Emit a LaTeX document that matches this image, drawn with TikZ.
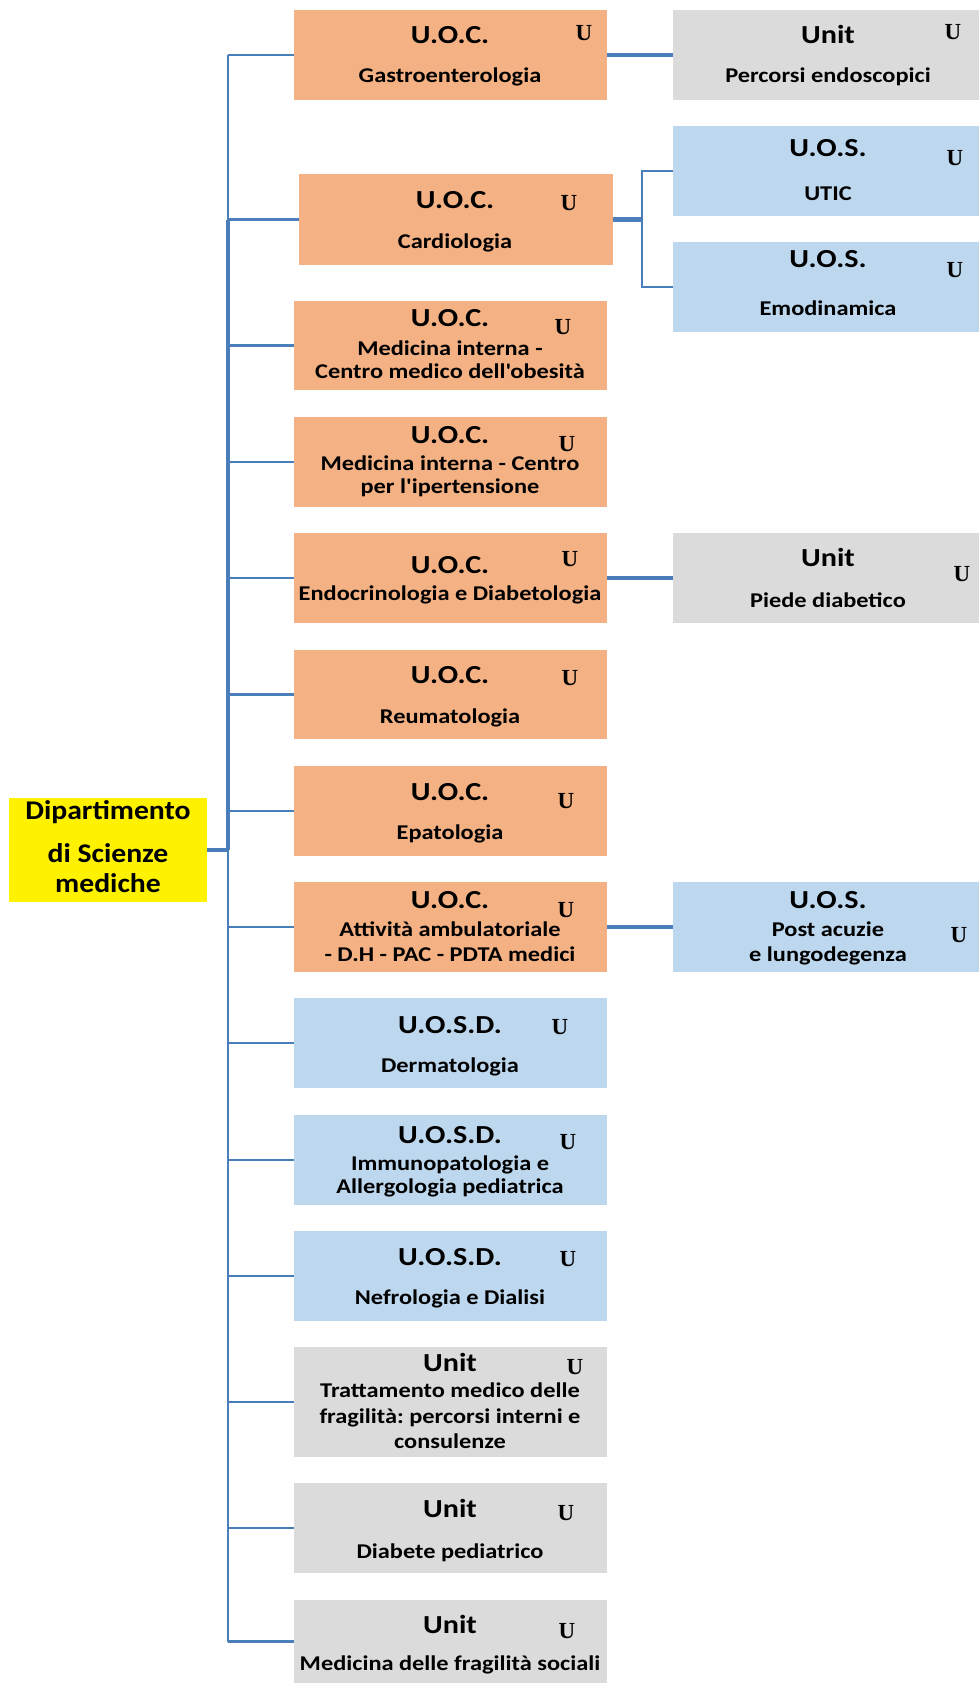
\documentclass[tikz,border=0pt]{standalone}
\usepackage{fontspec}
\setmainfont{Carlito}[Ligatures=TeXOff]
\newfontfamily\wfont{Carlito}[Ligatures=TeXOff,FakeStretch=1.16]
\newfontfamily\dfont{Carlito}[Ligatures=TeXOff,FakeStretch=1.10]
\newfontfamily\ufont{Liberation Serif}
\frenchspacing
\begin{document}
\begin{tikzpicture}[x=1pt,y=-1pt,
  box/.style={inner sep=0pt,outer sep=0pt,anchor=north west,draw=none},
  obox/.style={box,fill=orgc},
  bbox/.style={box,fill=bluec},
  gbox/.style={box,fill=grayc},
  ybox/.style={box,fill=yellow},
  hd/.style={inner sep=0pt,anchor=base,font=\fontsize{26}{30}\selectfont\wfont\bfseries},
  bd/.style={inner sep=0pt,anchor=base,font=\fontsize{21}{24}\selectfont\wfont\bfseries},
  dp/.style={inner sep=0pt,anchor=base,font=\fontsize{27}{30}\selectfont\dfont\bfseries},
  uu/.style={inner sep=0pt,anchor=center,font=\fontsize{23}{26}\selectfont\ufont\bfseries},
  conn/.style={draw=linec,line width=2.8pt},
  tconn/.style={draw=linec,line width=4.5pt}]
\definecolor{orgc}{HTML}{F4B183}
\definecolor{bluec}{HTML}{BDD7EE}
\definecolor{grayc}{HTML}{DBDBDB}
\definecolor{linec}{HTML}{4A7EBB}
\useasboundingbox (0,0) rectangle (979,1683);
% ---------- boxes ----------
\newcommand\mkbox[6]{\node[#1,minimum width={(#4-#2)*1pt},minimum height={(#5-#3)*1pt}] (#6) at (#2,#3) {};}
\mkbox{obox}{294}{10}{607}{100}{b1}
\mkbox{gbox}{673}{10}{979}{100}{r1}
\mkbox{obox}{299}{174}{613}{265}{b2}
\mkbox{bbox}{673}{126}{979}{216}{r2}
\mkbox{bbox}{673}{242}{979}{332}{r3}
\mkbox{obox}{294}{301}{607}{390}{b3}
\mkbox{obox}{294}{417}{607}{507}{b4}
\mkbox{obox}{294}{533}{607}{623}{b5}
\mkbox{gbox}{673}{533}{979}{623}{r4}
\mkbox{obox}{294}{650}{607}{739}{b6}
\mkbox{obox}{294}{766}{607}{856}{b7}
\mkbox{obox}{294}{882}{607}{972}{b8}
\mkbox{bbox}{673}{882}{979}{972}{r5}
\mkbox{bbox}{294}{998}{607}{1088}{b9}
\mkbox{bbox}{294}{1115}{607}{1205}{b10}
\mkbox{bbox}{294}{1231}{607}{1321}{b11}
\mkbox{gbox}{294}{1347}{607}{1457}{b12}
\mkbox{gbox}{294}{1483}{607}{1573}{b13}
\mkbox{gbox}{294}{1600}{607}{1683}{b14}
\mkbox{ybox}{9}{798}{207}{902}{dip}
% ---------- connectors ----------
\coordinate (ttop) at (228,55);
\coordinate (tbot) at (228,1641.5);
\coordinate (tj) at (228,850);
\coordinate (cb) at (642,219.5);
\draw[conn] (ttop) -- (tbot);
\draw[tconn] (b2.west -| ttop) -- (tj);
\draw[conn] (b1.west) -- (ttop);
\draw[conn] (b2.west) -- (b2.west -| ttop);
\foreach \b in {b3,b4,b5,b6,b7,b8,b9,b10,b11,b12,b13,b14}{
  \draw[conn] (\b.west) -- (\b.west -| ttop);
}
\draw[tconn] (dip.east) -- (tj);
\draw[tconn] (b1.east) -- (r1.west);
\draw[tconn] (b2.east) -- (cb);
\draw[conn] (r2.west) -| (cb);
\draw[conn] (r3.west) -| (cb);
\draw[tconn] (b5.east) -- (r4.west);
\draw[tconn] (b8.east) -- (r5.west);
% ---------- texts ----------
% b1
\node[hd] (t1a) at (450,44) {U.O.C.};
\node[bd] (t1b) at (450,83) {Gastroenterologia};
\node[uu] (u1) at (584,33) {U};
% r1
\node[hd] (s1a) at (828,44) {Unit};
\node[bd] (s1b) at (828,83) {Percorsi endoscopici};
\node[uu] (v1) at (953,32) {U};
% b2
\node[hd] (t2a) at (455,208) {U.O.C.};
\node[bd] (t2b) at (455,248) {Cardiologia};
\node[uu] (u2) at (569,203) {U};
% r2
\node[hd] (s2a) at (828,157) {U.O.S.};
\node[bd] (s2b) at (828,200) {UTIC};
\node[uu] (v2) at (955,158) {U};
% r3
\node[hd] (s3a) at (828,267) {U.O.S.};
\node[bd] (s3b) at (828,315) {Emodinamica};
\node[uu] (v3) at (955,270) {U};
% b3
\node[hd] (t3a) at (450,326) {U.O.C.};
\node[bd] (t3b) at (450,355) {Medicina interna -};
\node[bd] (t3c) at (450,378) {Centro medico dell'obesità};
\node[uu] (u3) at (563,327) {U};
% b4
\node[hd] (t4a) at (450,443) {U.O.C.};
\node[bd] (t4b) at (450,470) {Medicina interna - Centro};
\node[bd] (t4c) at (450,493) {per l'ipertensione};
\node[uu] (u4) at (567,444) {U};
% b5
\node[hd] (t5a) at (450,573) {U.O.C.};
\node[bd] (t5b) at (450,600) {Endocrinologia e Diabetologia};
\node[uu] (u5) at (570,559) {U};
% r4
\node[hd] (s4a) at (828,566) {Unit};
\node[bd] (s4b) at (828,607) {Piede diabetico};
\node[uu] (v4) at (962,574) {U};
% b6
\node[hd] (t6a) at (450,683) {U.O.C.};
\node[bd] (t6b) at (450,723) {Reumatologia};
\node[uu] (u6) at (570,678) {U};
% b7
\node[hd] (t7a) at (450,800) {U.O.C.};
\node[bd] (t7b) at (450,839) {Epatologia};
\node[uu] (u7) at (566,801) {U};
% b8
\node[hd] (t8a) at (450,908) {U.O.C.};
\node[bd] (t8b) at (450,936) {Attività ambulatoriale};
\node[bd] (t8c) at (450,961) {- D.H - PAC - PDTA medici};
\node[uu] (u8) at (566,910) {U};
% r5
\node[hd] (s5a) at (828,908) {U.O.S.};
\node[bd] (s5b) at (828,936) {Post acuzie};
\node[bd] (s5c) at (828,961) {e lungodegenza};
\node[uu] (v5) at (959,935) {U};
% b9
\node[hd] (t9a) at (450,1033) {U.O.S.D.};
\node[bd] (t9b) at (450,1072) {Dermatologia};
\node[uu] (u9) at (560,1027) {U};
% b10
\node[hd] (t10a) at (450,1143) {U.O.S.D.};
\node[bd] (t10b) at (450,1170) {Immunopatologia e};
\node[bd] (t10c) at (450,1193) {Allergologia pediatrica};
\node[uu] (u10) at (568,1142) {U};
% b11
\node[hd] (t11a) at (450,1265) {U.O.S.D.};
\node[bd] (t11b) at (450,1304) {Nefrologia e Dialisi};
\node[uu] (u11) at (568,1259) {U};
% b12
\node[hd] (t12a) at (450,1371) {Unit};
\node[bd] (t12b) at (450,1397) {Trattamento medico delle};
\node[bd] (t12c) at (450,1423) {fragilità: percorsi interni e};
\node[bd] (t12d) at (450,1448) {consulenze};
\node[uu] (u12) at (575,1367) {U};
% b13
\node[hd] (t13a) at (450,1517) {Unit};
\node[bd] (t13b) at (450,1558) {Diabete pediatrico};
\node[uu] (u13) at (566,1513) {U};
% b14
\node[hd] (t14a) at (450,1633) {Unit};
\node[bd] (t14b) at (450,1670) {Medicina delle fragilità sociali};
\node[uu] (u14) at (567,1631) {U};
% dip
\node[dp] (d1) at (108,819) {Dipartimento};
\node[dp] (d2) at (108,862) {di Scienze};
\node[dp] (d3) at (108,892) {mediche};
\end{tikzpicture}
\end{document}
